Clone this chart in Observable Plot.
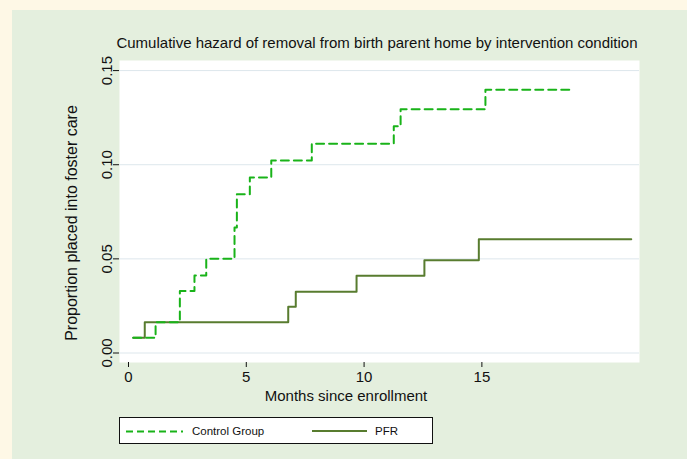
<!DOCTYPE html>
<html>
<head>
<meta charset="utf-8">
<script src="https://cdn.jsdelivr.net/npm/d3@7"></script>
<script src="https://cdn.jsdelivr.net/npm/@observablehq/plot@0.6"></script>
<style>
  html, body { margin: 0; padding: 0; }
  body { width: 687px; height: 459px; background: #fef8e6; position: relative; overflow: hidden;
         font-family: "Liberation Sans", Arial, sans-serif; color: #111; }
  #panel { position: absolute; left: 12px; top: 10px; width: 675px; height: 449px; background: #e4efde; }
  #chart { position: absolute; left: 0; top: 0; }
  .lbl { position: absolute; white-space: nowrap; }
  #title { left: 377px; top: 42px; transform: translate(-50%, -50%); font-size: 15px; }
  #xtitle { left: 346px; top: 395px; transform: translate(-50%, -50%); font-size: 15px; }
  #ytitle { left: 72px; top: 223px; transform: translate(-50%, -50%) rotate(-90deg); font-size: 16px; }
  #legend { position: absolute; left: 119px; top: 417px; width: 314px; height: 27px; background: #fff;
            border: 1px solid #111; box-sizing: border-box; }
  #legend svg { position: absolute; left: 0; top: 0; }
  .leg-text { position: absolute; top: 13px; transform: translateY(-50%); font-size: 11.5px; white-space: nowrap; }
</style>
</head>
<body>
<div id="panel"></div>
<div id="chart"></div>
<div id="title" class="lbl">Cumulative hazard of removal from birth parent home by intervention condition</div>
<div id="xtitle" class="lbl">Months since enrollment</div>
<div id="ytitle" class="lbl">Proportion placed into foster care</div>
<div id="legend">
  <svg width="314" height="27">
    <line x1="6" x2="63" y1="13.5" y2="13.5" stroke="#19b319" stroke-width="2" stroke-dasharray="7,4"></line>
    <line x1="192" x2="247" y1="13" y2="13" stroke="#587c2f" stroke-width="2"></line>
  </svg>
  <div class="leg-text" style="left:72px">Control Group</div>
  <div class="leg-text" style="left:255px">PFR</div>
</div>
<script>
// Control group: step times (months) and cumulative hazard
const controlMonths = [0.2, 1.15, 2.18, 2.8, 3.3, 4.5, 4.6, 5.15, 6.06, 7.78, 11.26, 11.55, 15.15, 18.76];
const controlHazard = [0.0081, 0.0163, 0.0329, 0.0412, 0.05, 0.0666, 0.0843, 0.0932, 0.1023, 0.1112, 0.1204, 0.1295, 0.1398, 0.1398];
// PFR group
const pfrMonths = [0.2, 0.69, 6.78, 7.1, 9.68, 12.56, 14.87, 21.34];
const pfrHazard = [0.0081, 0.0163, 0.0246, 0.0325, 0.041, 0.0493, 0.0604, 0.0604];
// Axis ticks
const xTicks = [0, 5, 10, 15];
const yTicks = [0, 0.05, 0.10, 0.15];
const yTickLabels = ["0.00", "0.05", "0.10", "0.15"];

const control = controlMonths.map((m, i) => ({month: m, hazard: controlHazard[i]}));
const pfr = pfrMonths.map((m, i) => ({month: m, hazard: pfrHazard[i]}));

const chart = Plot.plot({
  width: 687,
  height: 459,
  marginLeft: 119,
  marginRight: 48,
  marginTop: 60,
  marginBottom: 97,
  style: {background: "transparent", fontFamily: "'Liberation Sans', Arial, sans-serif", color: "#111"},
  x: {domain: [-0.382, 21.69], line: true},
  y: {domain: [-0.00504, 0.15536], line: true},
  marks: [
    Plot.frame({fill: "white", stroke: "none"}),
    Plot.gridY(yTicks, {stroke: "#dde7ec", strokeOpacity: 1, strokeWidth: 1}),
    Plot.axisX({ticks: xTicks, tickSize: 5, tickPadding: 4, fontSize: 15, label: null, tickFormat: d => String(d)}),
    Plot.axisY({ticks: yTicks, tickSize: 6, tickPadding: 2, tickRotate: -90, fontSize: 15, label: null,
                tickFormat: d => yTickLabels[yTicks.indexOf(d)]}),
    Plot.line(pfr, {x: "month", y: "hazard", curve: "step-after", stroke: "#587c2f", strokeWidth: 2}),
    Plot.line(control, {x: "month", y: "hazard", curve: "step-after", stroke: "#19b319", strokeWidth: 2, strokeDasharray: "8,5"})
  ]
});
document.getElementById("chart").appendChild(chart);
</script>
</body>
</html>
